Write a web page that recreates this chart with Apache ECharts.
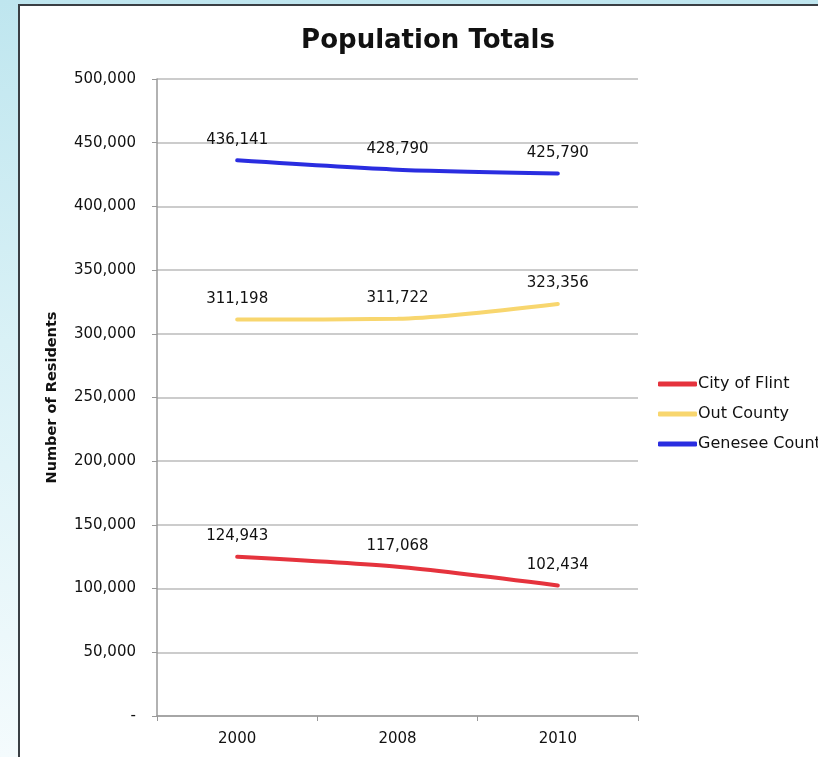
<!DOCTYPE html>
<html><head><meta charset="utf-8">
<script src="https://cdn.jsdelivr.net/npm/echarts@6/dist/echarts.min.js"></script>
<style>
html,body{margin:0;padding:0;}
#wrap{width:818px;height:757px;background:linear-gradient(180deg,#bfe6ef 0px,#d9f1f6 45%,#f4fbfd 100%);}
#c{width:818px;height:757px;}
</style></head>
<body><div id="wrap"><div id="c"></div></div>
<script>
const categories = ['2000', '2008', '2010'];
const cityOfFlint = [124943, 117068, 102434];
const outCounty = [311198, 311722, 323356];
const geneseeCounty = [436141, 428790, 425790];
const seriesNames = ['City of Flint', 'Out County', 'Genesee County'];

const fmt = v => v === 0 ? '-' : v.toLocaleString('en-US');
const FONT = 'DejaVu Sans';

const chart = echarts.init(document.getElementById('c'));
function mk(name, data, color) {
  return {
    name, type: 'line', data, smooth: 0.25,
    symbol: 'circle', symbolSize: 0, showSymbol: true,
    lineStyle: {color, width: 4, cap: 'round'},
    itemStyle: {color},
    label: {show: true, position: 'top', distance: 13, color: '#111', fontSize: 15, fontFamily: FONT,
      formatter: p => fmt(p.value)},
    emphasis: {disabled: true}
  };
}
chart.setOption({
  animation: false,
  backgroundColor: 'transparent',
  graphic: [{type: 'rect', z: -10, shape: {x: 19, y: 5, width: 820, height: 770},
    style: {fill: '#ffffff', stroke: '#3a3f44', lineWidth: 2}}],
  title: {text: 'Population Totals', left: 423, top: 23, textAlign: 'center',
    textStyle: {fontFamily: FONT, fontWeight: 'bold', fontSize: 26, color: '#111'}},
  legend: {orient: 'vertical', left: 653, top: 371, itemGap: 14, icon: 'roundRect',
    itemWidth: 39, itemHeight: 5, data: seriesNames,
    textStyle: {fontFamily: FONT, fontSize: 16, color: '#111', padding: [0, 0, 0, -4]}},
  grid: {left: 157, right: 180, top: 79, bottom: 41, containLabel: false},
  xAxis: {type: 'category', data: categories, boundaryGap: true,
    axisLine: {lineStyle: {color: '#999', width: 1.5}},
    axisTick: {show: true, length: 5, lineStyle: {color: '#999'}},
    axisLabel: {fontFamily: FONT, fontSize: 15, color: '#111', margin: 16}},
  yAxis: {type: 'value', min: 0, max: 500000, interval: 50000,
    name: 'Number of Residents', nameLocation: 'middle', nameGap: 97, nameRotate: 90,
    nameTextStyle: {fontFamily: FONT, fontWeight: 'bold', fontSize: 14.5, color: '#111'},
    axisLine: {show: true, lineStyle: {color: '#999', width: 1.5}},
    axisTick: {show: true, length: 5, lineStyle: {color: '#999'}},
    splitLine: {lineStyle: {color: '#bbb', width: 1.5}},
    axisLabel: {fontFamily: FONT, fontSize: 15, color: '#111', margin: 21, formatter: fmt}},
  series: [mk(seriesNames[0], cityOfFlint, '#e5333d'), mk(seriesNames[1], outCounty, '#f8d66e'), mk(seriesNames[2], geneseeCounty, '#2a2de0')]
});
</script></body></html>
